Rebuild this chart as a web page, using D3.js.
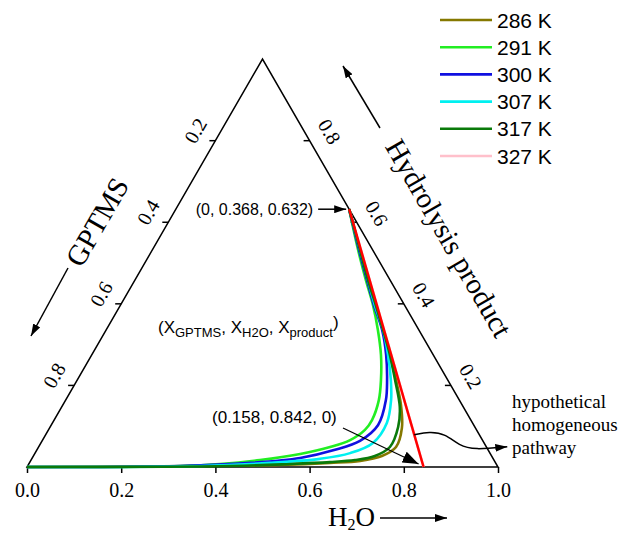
<!DOCTYPE html>
<html>
<head>
<meta charset="utf-8">
<script src="https://cdn.jsdelivr.net/npm/d3@7"></script>
<style>
body { margin: 0; background: #fff; }
svg { display: block; }
</style>
</head>
<body>
<div id="chart"></div>
<script>
// each series point is [X_H2O, X_product]; X_GPTMS = 1 - X_H2O - X_product
var temps = ["286 K", "291 K", "300 K", "307 K", "317 K", "327 K"];
var colors = ["#857800", "#22ee22", "#1010e0", "#00f0f0", "#0a7a0a", "#ffc0cb"];

var s286 = [[0.368,0.632],[0.441,0.532],[0.495,0.458],[0.542,0.397],[0.588,0.336],[0.633,0.275],
    [0.677,0.213],[0.718,0.152],[0.748,0.096],[0.759,0.049],[0.740,0.027],[0.700,0.015],[0.638,0.010],
    [0.535,0.005],[0.366,0.0025],[0,0]];
var s291 = [[0.368,0.632],[0.437,0.532],[0.4905,0.458],[0.536,0.397],[0.577,0.336],[0.614,0.275],
    [0.645,0.213],[0.665,0.164],[0.675,0.115],[0.672,0.091],[0.653,0.066],[0.619,0.049],[0.564,0.032],
    [0.486,0.017],[0.406,0.0074],[0.324,0.0025],[0.155,0],[0,0]];
var s300 = [[0.368,0.632],[0.439,0.532],[0.493,0.458],[0.538,0.397],[0.586,0.336],[0.625,0.275],
    [0.658,0.213],[0.680,0.164],[0.694,0.103],[0.675,0.064],[0.633,0.042],[0.569,0.022],[0.469,0.010],
    [0.324,0.0025],[0,0]];
var s307 = [[0.368,0.632],[0.441,0.532],[0.495,0.458],[0.540,0.397],[0.588,0.336],[0.629,0.275],
    [0.666,0.213],[0.691,0.164],[0.710,0.108],[0.705,0.059],[0.669,0.034],[0.612,0.020],[0.511,0.010],
    [0.366,0.0025],[0,0]];
var s317 = [[0.368,0.632],[0.441,0.532],[0.495,0.458],[0.542,0.397],[0.588,0.336],[0.633,0.275],
    [0.675,0.213],[0.718,0.147],[0.739,0.098],[0.746,0.049],[0.725,0.027],[0.688,0.017],[0.637,0.012],
    [0.555,0.0074],[0.430,0.0025],[0,0]];
var s327 = [[0.368,0.632],[0.500,0.456],[0.620,0.296],[0.740,0.136],[0.842,0]];
var series = [s286, s291, s300, s307, s317, s327];

// hypothetical homogeneous pathway
var homogeneous = [[0.368,0.632],[0.842,0]];

var bottomTicks = [0, 0.2, 0.4, 0.6, 0.8, 1.0];
var sideTicks = [0.2, 0.4, 0.6, 0.8];

var width = 632, height = 534;
var svg = d3.select("#chart").append("svg")
    .attr("width", width)
    .attr("height", height);

var side = d3.scaleLinear().domain([0, 1]).range([27, 498]);
var up = d3.scaleLinear().domain([0, 1]).range([467, 467 - 471 * Math.sqrt(3) / 2]);

function px(d) { return side(d[0] + d[1] / 2); }
function py(d) { return up(d[1]); }

var serif = "'Liberation Serif', 'Times New Roman', serif";
var sans = "'Liberation Sans', Arial, sans-serif";

// arrow heads
var defs = svg.append("defs");
function marker(id, w, h) {
    defs.append("marker")
        .attr("id", id)
        .attr("markerUnits", "userSpaceOnUse")
        .attr("markerWidth", w).attr("markerHeight", h)
        .attr("refX", w).attr("refY", h / 2)
        .attr("orient", "auto")
        .append("path")
        .attr("d", "M0,0L" + w + "," + (h / 2) + "L0," + h + "Z")
        .attr("fill", "#000");
}
marker("head", 12, 8);
marker("bighead", 16, 12);

// triangle frame
var corners = [[0, 0], [1, 0], [0, 1]];
svg.append("path")
    .attr("d", "M" + corners.map(function(c) { return px(c) + "," + py(c); }).join("L") + "Z")
    .attr("fill", "none")
    .attr("stroke", "#000")
    .attr("stroke-width", 1.5);

// bottom axis (H2O)
var xAxis = d3.axisBottom(side)
    .tickValues(bottomTicks)
    .tickSize(6)
    .tickFormat(d3.format(".1f"));
var gx = svg.append("g")
    .attr("transform", "translate(0," + up(0) + ")")
    .call(xAxis);
gx.select(".domain").remove();
gx.selectAll("line").attr("stroke-width", 1.5);
gx.selectAll("text")
    .attr("y", 16)
    .attr("dy", "0.71em")
    .style("font-family", serif)
    .style("font-size", "20px");

// left edge ticks (GPTMS)
var left = svg.append("g");
sideTicks.forEach(function(g) {
    var pt = [0, 1 - g];
    var x = px(pt), y = py(pt);
    left.append("line")
        .attr("x1", x).attr("y1", y).attr("x2", x - 6).attr("y2", y)
        .attr("stroke", "#000").attr("stroke-width", 1.5);
    left.append("text")
        .attr("transform", "translate(" + (x - 20) + "," + (y - 10) + ") rotate(-60)")
        .attr("text-anchor", "middle")
        .attr("dominant-baseline", "central")
        .style("font-family", serif)
        .style("font-size", "20px")
        .text(g.toFixed(1));
});

// right edge ticks (hydrolysis product)
var right = svg.append("g");
sideTicks.forEach(function(p) {
    var pt = [1 - p, p];
    var x = px(pt), y = py(pt);
    right.append("line")
        .attr("x1", x).attr("y1", y).attr("x2", x - 6).attr("y2", y)
        .attr("stroke", "#000").attr("stroke-width", 1.5);
    right.append("text")
        .attr("transform", "translate(" + (x + 20) + "," + (y - 9) + ") rotate(60)")
        .attr("text-anchor", "middle")
        .attr("dominant-baseline", "central")
        .style("font-family", serif)
        .style("font-size", "20px")
        .text(p.toFixed(1));
});

// curves
var line = d3.line()
    .x(px).y(py)
    .curve(d3.curveCatmullRom.alpha(0.5));

var order = [5, 0, 1, 2, 3, 4];
order.forEach(function(i) {
    svg.append("path")
        .attr("d", line(series[i]))
        .attr("fill", "none")
        .attr("stroke", colors[i])
        .attr("stroke-width", 2.6);
});

svg.append("path")
    .attr("d", d3.line().x(px).y(py)(homogeneous))
    .attr("fill", "none")
    .attr("stroke", "#ff0000")
    .attr("stroke-width", 2.5);

// axis titles
svg.append("text")
    .attr("transform", "translate(97,222) rotate(-60)")
    .attr("text-anchor", "middle")
    .attr("dominant-baseline", "central")
    .style("font-family", serif)
    .style("font-size", "29px")
    .text("GPTMS");
svg.append("line")
    .attr("x1", 68).attr("y1", 268).attr("x2", 31).attr("y2", 336)
    .attr("stroke", "#000").attr("stroke-width", 1.5)
    .attr("marker-end", "url(#head)");

svg.append("text")
    .attr("transform", "translate(449,238) rotate(60)")
    .attr("text-anchor", "middle")
    .attr("dominant-baseline", "central")
    .style("font-family", serif)
    .style("font-size", "29px")
    .text("Hydrolysis product");
svg.append("line")
    .attr("x1", 380).attr("y1", 128).attr("x2", 343).attr("y2", 66)
    .attr("stroke", "#000").attr("stroke-width", 1.5)
    .attr("marker-end", "url(#head)");

var h2o = svg.append("text")
    .attr("x", 328).attr("y", 526)
    .style("font-family", serif)
    .style("font-size", "27px");
h2o.append("tspan").text("H");
h2o.append("tspan").attr("dy", 4).style("font-size", "16px").text("2");
h2o.append("tspan").attr("dy", -4).text("O");
svg.append("line")
    .attr("x1", 380).attr("y1", 518).attr("x2", 447).attr("y2", 518)
    .attr("stroke", "#000").attr("stroke-width", 1.5)
    .attr("marker-end", "url(#head)");

// annotations
var start = homogeneous[0], end = homogeneous[1];
svg.append("text")
    .attr("x", px(start) - 36).attr("y", py(start))
    .attr("text-anchor", "end")
    .attr("dominant-baseline", "central")
    .style("font-family", sans)
    .style("font-size", "16px")
    .text("(0, 0.368, 0.632)");
svg.append("line")
    .attr("x1", px(start) - 31).attr("y1", py(start))
    .attr("x2", px(start) - 3).attr("y2", py(start))
    .attr("stroke", "#000").attr("stroke-width", 1.5)
    .attr("marker-end", "url(#head)");

svg.append("text")
    .attr("x", 212).attr("y", 417)
    .attr("dominant-baseline", "central")
    .style("font-family", sans)
    .style("font-size", "17px")
    .text("(0.158, 0.842, 0)");
svg.append("line")
    .attr("x1", 343).attr("y1", 428)
    .attr("x2", px(end) - 5).attr("y2", py(end) - 3)
    .attr("stroke", "#000").attr("stroke-width", 1.3)
    .attr("marker-end", "url(#bighead)");

var coords = svg.append("text")
    .attr("x", 158).attr("y", 333)
    .style("font-family", sans)
    .style("font-size", "17px");
coords.append("tspan").text("(X");
coords.append("tspan").attr("dy", 4).style("font-size", "13px").text("GPTMS");
coords.append("tspan").attr("dy", -4).text(", X");
coords.append("tspan").attr("dy", 4).style("font-size", "13px").text("H2O");
coords.append("tspan").attr("dy", -4).text(", X");
coords.append("tspan").attr("dy", 4).style("font-size", "13px").text("product");
coords.append("tspan").attr("dy", -9).text(")");

// curly pointer from the homogeneous line to its note
var t = 0.875;
var sx = px(start) + (px(end) - px(start)) * t, sy = py(start) + (py(end) - py(start)) * t;
var curl = [[sx, sy], [sx + 15, sy - 3], [sx + 31, sy - 1], [sx + 45, sy + 11], [sx + 60, sy + 15], [sx + 93, sy + 12]];
svg.append("path")
    .attr("d", d3.line().curve(d3.curveBasis)(curl))
    .attr("fill", "none")
    .attr("stroke", "#000")
    .attr("stroke-width", 1.5)
    .attr("marker-end", "url(#head)");

var note = ["hypothetical", "homogeneous", "pathway"];
svg.append("g").selectAll("text")
    .data(note)
    .enter().append("text")
    .attr("x", 512)
    .attr("y", function(d, i) { return 408 + i * 23; })
    .style("font-family", serif)
    .style("font-size", "19px")
    .text(function(d) { return d; });

// legend
var legend = svg.append("g").attr("transform", "translate(440,20)");
temps.forEach(function(label, i) {
    var row = legend.append("g").attr("transform", "translate(0," + (i * 27.2) + ")");
    row.append("line")
        .attr("x1", 0).attr("x2", 52)
        .attr("stroke", colors[i])
        .attr("stroke-width", 2.6);
    row.append("text")
        .attr("x", 57).attr("y", 0)
        .attr("dominant-baseline", "central")
        .style("font-family", sans)
        .style("font-size", "21px")
        .text(label);
});
</script>
</body>
</html>
